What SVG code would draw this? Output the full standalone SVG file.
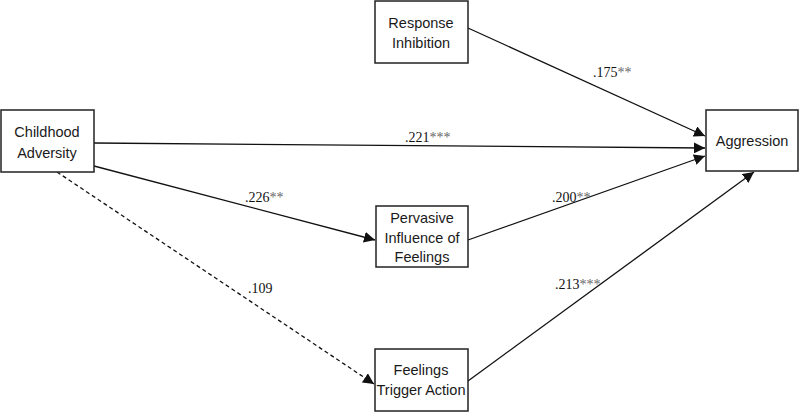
<svg xmlns="http://www.w3.org/2000/svg" width="800" height="413" viewBox="0 0 800 413">
<style>
.box{fill:#fff;stroke:#222;stroke-width:1.5}
.nl{font-family:"Liberation Sans",Arial,sans-serif;font-size:14.5px;fill:#1a1a1a;text-anchor:middle}
.el{font-family:"Liberation Serif","Times New Roman",serif;font-size:14px;fill:#111}
.st{fill:#666}
.c{fill:none;stroke:#111;stroke-width:1.3;marker-end:url(#ah)}
.d{stroke-dasharray:4,3}
</style>
<defs>
<marker id="ah" viewBox="0 0 10 10" refX="10" refY="5" markerWidth="11" markerHeight="11" markerUnits="userSpaceOnUse" orient="auto">
<path d="M0,0 L10,5 L0,10 z" fill="#111"/>
</marker>
</defs>
<rect width="800" height="413" fill="#fff"/>
<g id="connectors">
<line class="c" x1="468" y1="28" x2="705" y2="136"/>
<line class="c" x1="94" y1="143" x2="705" y2="148"/>
<line class="c" x1="94" y1="166" x2="375" y2="240"/>
<line class="c" x1="468" y1="240" x2="705" y2="156"/>
<line class="c d" x1="57" y1="172" x2="374" y2="384"/>
<line class="c" x1="468" y1="381" x2="754" y2="172"/>
</g>
<g id="childhood">
<rect class="box" x="1" y="110" width="93" height="62"/>
<text class="nl" x="47" y="137">Childhood</text>
<text class="nl" x="47" y="158">Adversity</text>
</g>
<g id="response">
<rect class="box" x="375" y="1" width="93" height="62"/>
<text class="nl" x="421" y="28">Response</text>
<text class="nl" x="421" y="48">Inhibition</text>
</g>
<g id="aggression">
<rect class="box" x="706" y="110" width="92" height="61"/>
<text class="nl" x="752" y="146">Aggression</text>
</g>
<g id="pervasive">
<rect class="box" x="376" y="206" width="92" height="61"/>
<text class="nl" x="422" y="223">Pervasive</text>
<text class="nl" x="422" y="243">Influence of</text>
<text class="nl" x="422" y="262">Feelings</text>
</g>
<g id="trigger">
<rect class="box" x="375" y="349" width="93" height="62"/>
<text class="nl" x="421" y="375">Feelings</text>
<text class="nl" x="421" y="395">Trigger Action</text>
</g>
<g id="labels">
<text class="el" x="593" y="77">.175<tspan class="st">**</tspan></text>
<text class="el" x="405" y="142">.221<tspan class="st">***</tspan></text>
<text class="el" x="245" y="202">.226<tspan class="st">**</tspan></text>
<text class="el" x="248" y="293">.109</text>
<text class="el" x="552" y="202">.200<tspan class="st">**</tspan></text>
<text class="el" x="555" y="289">.213<tspan class="st">***</tspan></text>
</g>
</svg>
